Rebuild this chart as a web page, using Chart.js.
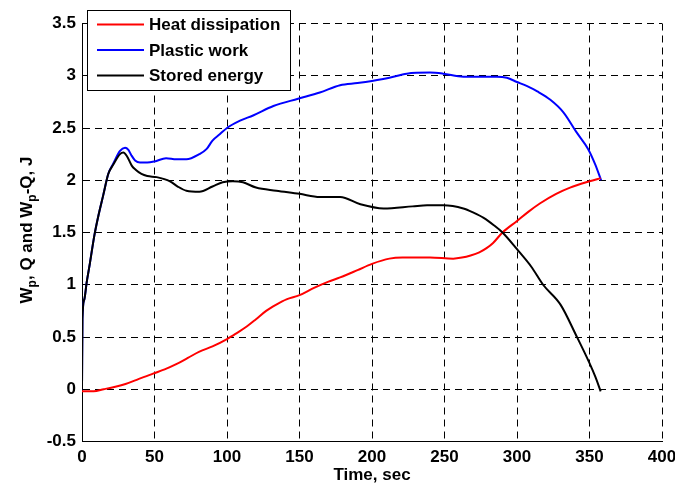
<!DOCTYPE html>
<html>
<head>
<meta charset="utf-8">
<script src="https://cdn.jsdelivr.net/npm/chart.js@4.4.1/dist/chart.umd.min.js"></script>
<style>
    html, body { margin: 0; padding: 0; background: #fff; }
    #wrap { width: 675px; height: 489px; }
</style>
</head>
<body>
<div id="wrap"><canvas id="g_energia"></canvas></div>
<script>
// datos
let t_calor = [0, 8, 15, 21.6, 30, 37.7, 49, 57, 65, 73, 81, 90, 100, 107, 113.6, 120, 127, 134, 141, 150,
    160, 170, 178, 190, 200, 212, 221, 240, 256, 262, 268, 274, 279, 283.5, 290, 300, 308, 316, 327, 336.6, 350, 357.7];
let calor = [-0.02, -0.02, 0.0, 0.02, 0.05, 0.09, 0.15, 0.19, 0.24, 0.30, 0.36, 0.41, 0.48, 0.54, 0.60, 0.67, 0.75, 0.81, 0.86, 0.90,
    0.97, 1.03, 1.07, 1.14, 1.20, 1.25, 1.26, 1.26, 1.25, 1.26, 1.28, 1.31, 1.35, 1.40, 1.50, 1.61, 1.70, 1.78, 1.87, 1.93, 1.99, 2.02];

let t_plastico = [0, 0.3, 1.6, 3.2, 5.5, 8.5, 11.3, 14.7, 18.1, 21.6, 26.2, 29.7, 32, 34, 36.6, 40, 45, 50, 58, 65,
    72, 81, 86, 90, 95, 100, 109, 118, 132, 149, 164, 178, 190, 200, 212, 224, 240, 249, 263, 275,
    286, 293, 300, 307, 314, 323, 332, 341, 349, 354, 358];
let plastico = [0, 0.67, 0.86, 1.02, 1.21, 1.47, 1.66, 1.86, 2.06, 2.16, 2.28, 2.31, 2.29, 2.24, 2.19, 2.17, 2.17, 2.18, 2.21, 2.20,
    2.20, 2.25, 2.30, 2.38, 2.44, 2.50, 2.57, 2.62, 2.71, 2.78, 2.84, 2.91, 2.93, 2.95, 2.98, 3.02, 3.03, 3.02, 2.99, 2.99,
    2.99, 2.98, 2.94, 2.90, 2.85, 2.77, 2.65, 2.46, 2.30, 2.15, 2.00];

let t_almacenada = [0, 0.3, 1.6, 3.2, 5.5, 8.5, 11.3, 14.7, 18.1, 21.6, 26.2, 28.5, 31, 34.3, 37, 41, 45, 51.5, 60.7, 66,
    72, 81, 90, 97, 104, 111, 120, 134, 150, 164, 178, 192, 208, 228, 238, 249, 263, 270, 277, 284,
    290, 300, 310, 318, 330, 341, 350, 354, 357.7];
let almacenada = [0, 0.67, 0.86, 1.02, 1.21, 1.47, 1.66, 1.86, 2.06, 2.15, 2.25, 2.265, 2.23, 2.14, 2.10, 2.06, 2.04, 2.03, 1.99, 1.94,
    1.90, 1.89, 1.94, 1.98, 1.99, 1.98, 1.93, 1.90, 1.87, 1.84, 1.84, 1.77, 1.73, 1.75, 1.76, 1.76, 1.73, 1.69, 1.64, 1.57,
    1.50, 1.34, 1.17, 1.00, 0.81, 0.51, 0.25, 0.12, -0.02];

let nombres = ["Heat dissipation", "Plastic work", "Stored energy"];
let x_ticks = [0, 50, 100, 150, 200, 250, 300, 350, 400];
let y_ticks = [-0.5, 0, 0.5, 1, 1.5, 2, 2.5, 3, 3.5];

let fuente = "'Liberation Sans', Arial, sans-serif";

function puntos(xs, ys){
    let p = [];
    for(let i = 0; i < xs.length; i++){
        p.push({x: xs[i], y: ys[i]});
    }
    return p;
}

// titulo del eje y con subindices
const titulo_y = {
    id: "titulo_y",
    afterDraw(chart){
        let ctx = chart.ctx;
        let partes = [["W", 0], ["p", 1], [", Q and W", 0], ["p", 1], ["-Q, J", 0]];
        ctx.save();
        ctx.translate(27, 230);
        ctx.rotate(-Math.PI / 2);
        ctx.fillStyle = "#000";
        ctx.textBaseline = "middle";
        ctx.textAlign = "left";
        let total = 0;
        partes.forEach(function(p){
            ctx.font = "bold " + (p[1] ? 12 : 17) + "px " + fuente;
            total += ctx.measureText(p[0]).width;
        });
        let x = -total / 2;
        partes.forEach(function(p){
            ctx.font = "bold " + (p[1] ? 12 : 17) + "px " + fuente;
            ctx.fillText(p[0], x, p[1] ? 6 : 0);
            x += ctx.measureText(p[0]).width;
        });
        ctx.restore();
    }
};

// leyenda en caja arriba a la izquierda
const leyenda = {
    id: "leyenda",
    afterDraw(chart){
        let ctx = chart.ctx;
        ctx.save();
        ctx.fillStyle = "#fff";
        ctx.fillRect(87.5, 10.5, 203, 80);
        ctx.strokeStyle = "#000";
        ctx.lineWidth = 1;
        ctx.strokeRect(87.5, 10.5, 203, 80);
        ctx.font = "bold 17px " + fuente;
        ctx.textBaseline = "middle";
        ctx.textAlign = "left";
        chart.data.datasets.forEach(function(d, i){
            let y = 24.5 + i * 25.5;
            ctx.strokeStyle = d.borderColor;
            ctx.lineWidth = 2;
            ctx.beginPath();
            ctx.moveTo(97, y);
            ctx.lineTo(144, y);
            ctx.stroke();
            ctx.fillStyle = "#000";
            ctx.fillText(d.label, 149, y + 1);
        });
        ctx.restore();
    }
};

let ctx = document.getElementById("g_energia").getContext("2d");
let g = new Chart(ctx, {
    type: "line",
    data: {
        datasets: [
            {
                label: nombres[0],
                data: puntos(t_calor, calor),
                borderColor: "#ff0000",
                borderWidth: 2,
                pointRadius: 0,
                cubicInterpolationMode: "monotone",
                order: 1
            },
            {
                label: nombres[1],
                data: puntos(t_plastico, plastico),
                borderColor: "#0000ff",
                borderWidth: 2,
                pointRadius: 0,
                cubicInterpolationMode: "monotone",
                order: 2
            },
            {
                label: nombres[2],
                data: puntos(t_almacenada, almacenada),
                borderColor: "#000000",
                borderWidth: 2,
                pointRadius: 0,
                cubicInterpolationMode: "monotone",
                order: 0
            }
        ]
    },
    options: {
        responsive: true,
        maintainAspectRatio: false,
        animation: false,
        layout: {
            padding: { top: 23.5, right: 0, left: 0, bottom: 0 }
        },
        plugins: {
            legend: { display: false },
            tooltip: { enabled: false }
        },
        scales: {
            x: {
                type: "linear",
                min: 0,
                max: 400,
                afterBuildTicks: function(s){ s.ticks = x_ticks.map(function(v){ return {value: v}; }); },
                afterFit: function(s){ s.height = 47.5; s.paddingRight = 13; s.paddingLeft = 0; },
                grid: { color: "#000", lineWidth: 1, drawTicks: false },
                border: { display: true, color: "#000", width: 1, dash: [7, 5] },
                ticks: {
                    color: "#000",
                    padding: 6,
                    maxRotation: 0,
                    font: { family: fuente, size: 17, weight: "bold" }
                },
                title: {
                    display: true,
                    text: "Time, sec",
                    color: "#000",
                    padding: { top: 0, bottom: 3 },
                    font: { family: fuente, size: 17, weight: "bold" }
                }
            },
            y: {
                min: -0.5,
                max: 3.5,
                afterBuildTicks: function(s){ s.ticks = y_ticks.map(function(v){ return {value: v}; }); },
                afterFit: function(s){ s.width = 82; },
                grid: { color: "#000", lineWidth: 1, drawTicks: false },
                border: { display: true, color: "#000", width: 1, dash: [7, 5] },
                ticks: {
                    color: "#000",
                    padding: 6,
                    font: { family: fuente, size: 17, weight: "bold" },
                    callback: function(v){ return String(v); }
                }
            }
        }
    },
    plugins: [titulo_y, leyenda]
});
</script>
</body>
</html>
